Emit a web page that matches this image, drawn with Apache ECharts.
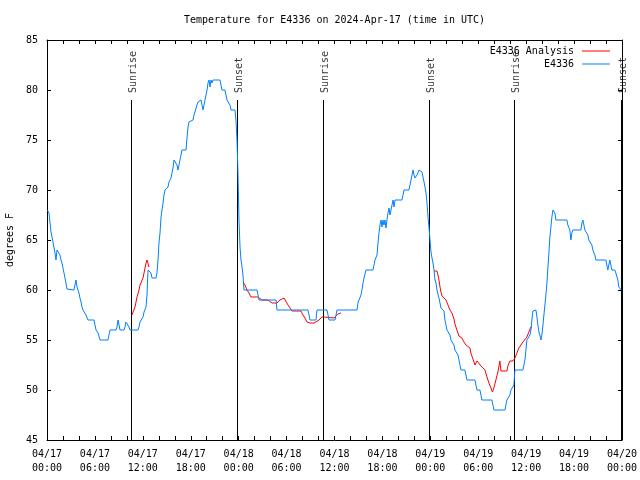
<!DOCTYPE html>
<html><head><meta charset="utf-8">
<script src="https://cdn.jsdelivr.net/npm/echarts@6/dist/echarts.min.js"></script>
<style>html,body{margin:0;padding:0;background:#fff}#c{width:640px;height:480px}</style>
</head><body><div id="c"></div>
<script>
const titleText = 'Temperature for E4336 on 2024-Apr-17 (time in UTC)';
const yAxisTitle = 'degrees F';
const xTickLabels = ['04/17\n00:00','04/17\n06:00','04/17\n12:00','04/17\n18:00','04/18\n00:00','04/18\n06:00','04/18\n12:00','04/18\n18:00','04/19\n00:00','04/19\n06:00','04/19\n12:00','04/19\n18:00','04/20\n00:00'];
const seriesNames = ['E4336 Analysis', 'E4336'];

// hours since 04/17 00:00 UTC
const blueHours = [0.05,0.25,0.38,0.5,0.63,0.75,0.88,1.0,1.13,1.25,1.5,1.63,1.75,1.88,2.0,2.13,2.25,2.38,2.5,2.63,3.38,3.5,3.63,3.76,3.88,4.0,4.13,4.26,4.38,4.51,4.76,4.88,5.13,5.89,6.01,6.14,6.39,6.64,7.64,7.76,7.89,8.64,8.77,8.89,9.02,9.14,9.64,9.77,9.89,10.02,10.14,10.27,10.39,11.39,11.52,11.65,11.9,12.02,12.15,12.4,12.52,12.65,12.9,13.02,13.15,13.65,13.77,13.9,14.02,14.15,14.28,14.4,14.53,14.65,14.78,15.03,15.15,15.28,15.53,15.65,15.78,15.9,16.15,16.28,16.4,16.53,16.65,16.78,16.9,17.41,17.53,17.66,17.78,17.91,18.28,18.41,18.53,18.66,18.78,18.91,19.03,19.28,19.41,19.53,19.78,19.91,20.04,20.16,20.29,20.41,20.54,20.66,20.79,21.66,21.79,21.91,22.29,22.41,22.54,22.79,22.91,23.04,23.54,23.66,23.79,23.92,24.04,24.17,24.29,24.42,24.54,24.67,26.3,26.42,26.55,28.68,28.8,32.68,32.81,32.93,33.68,33.81,35.06,35.19,35.31,36.06,36.19,36.31,38.82,38.94,39.07,39.32,39.44,39.57,39.69,39.94,40.82,40.95,41.07,41.32,41.45,41.57,41.7,41.82,41.95,42.07,42.2,42.32,42.45,42.57,42.7,42.83,42.95,43.08,43.2,43.33,43.45,43.58,44.45,44.58,44.7,45.33,45.45,45.71,45.83,45.96,46.08,46.33,46.58,46.83,46.96,47.08,47.21,47.33,47.46,47.58,47.71,47.83,47.96,48.08,48.21,48.33,48.46,48.58,48.71,48.83,49.08,49.21,49.33,49.46,49.71,49.83,49.96,50.08,50.33,50.46,50.58,50.83,50.96,51.08,51.33,51.46,51.58,51.71,51.83,52.33,52.46,52.58,53.59,53.71,53.84,54.21,54.34,54.46,55.71,55.84,55.96,57.34,57.46,57.59,57.84,57.96,58.09,58.34,58.46,58.59,59.59,59.72,59.84,59.97,60.09,60.34,60.47,60.6,60.72,60.84,61.22,61.35,61.47,61.6,61.72,61.85,61.97,62.1,62.22,62.35,62.47,62.6,62.72,62.85,62.97,63.1,63.22,63.35,63.47,63.6,63.72,65.1,65.22,65.47,65.6,65.72,65.85,66.85,66.98,67.1,67.23,67.35,67.6,67.73,67.85,68.1,68.23,68.35,68.48,68.6,68.73,69.98,70.1,70.23,70.35,70.48,70.6,70.73,71.1,71.23,71.35,71.48,71.6,71.9];
const blueTemps = [68,67.7,66.7,65.8,65.3,64.8,64.2,63.7,63,64,64,63.5,63,62.7,62.2,61.7,61.2,60.7,60.1,60,60,60.5,61,60.3,60,59.7,59.2,58.8,58.3,58,57.8,57.5,57,57,56.5,56,55.7,55,55,55.5,56,56,56.3,57,56.5,56,56,56.3,56.8,57,56.7,56.3,56,56,56.3,56.8,57,57.3,57.8,58.3,59.5,62,62,61.7,61.2,61.2,61.7,63,64.7,65.7,67.3,68,68.7,69.5,70,70,70.3,70.8,71.2,71.7,72.2,73,73,72.5,72,72.5,73,73.5,74,74,75.2,76.3,76.8,77,77,77.5,77.8,78,78.5,78.8,79,79,78.5,78,78,79.5,80,80.7,81,80.3,81,80.7,81,81,80.5,80,80,79.5,79,78.8,78.5,78,78,77,75,71.5,67,64.3,63,62.3,61.5,60,60,59.5,59,59,58,58,57.5,57,57,58,58,57.5,57,57,57.5,58,58,58.7,59,59.5,60,60.7,61.2,62,62,62.5,63,63.5,64.7,65.7,66.5,67,66.3,67,66.5,67,66.2,67,67.7,68.2,67.5,68,68.5,69,68.3,69,69,69.5,70,70,70.5,71.5,72,71.5,71.2,71.5,72,72,71.8,71.3,70.8,70.3,69.7,68.7,67.3,66.3,65,63.8,63.2,62.7,62,61,60.7,60,59.2,58.7,58.2,58,57.9,57,56.5,56,55.9,55.5,55,55,54.5,54,53.8,53.5,53,52.5,52,52,51.5,51,51,50.5,50,50,49.5,49,49,48.5,48,48,48.5,49,49,49.5,50,50,50.5,52,52,52.5,53,54,55,55,55.5,56,57,57.9,58,57.3,56.5,55.8,55.5,55,55.5,56.5,57.5,58.5,59.5,60.7,62.2,63.7,65.3,66.3,67.3,68,68,67.7,67,67,66.5,66,65,65.7,66,66,66.7,67,66.5,66,65.9,65.5,65,65,64.5,64,64,63.5,63,63,62.5,62,62.5,63,62.5,62,62,61.7,61.5,61,60.3,60];

// analysis series; null marks a gap between runs
const redHours = [10.64,10.77,11.02,11.27,11.52,11.65,11.9,12.02,12.15,12.27,12.4,12.52,12.65,12.77,null,
  24.54,24.79,25.04,25.29,25.54,26.42,26.67,26.92,27.67,27.92,28.18,28.8,29.18,29.68,29.93,30.18,30.43,30.68,31.8,32.05,32.3,32.56,32.93,33.43,33.68,34.06,34.43,34.69,34.94,35.94,36.19,36.44,36.81,null,
  48.46,48.83,48.96,49.08,49.21,49.33,49.46,49.71,49.96,50.21,50.46,50.71,50.96,51.08,51.33,51.58,51.71,51.96,52.21,52.46,52.71,52.96,53.08,53.33,53.59,53.84,54.09,54.34,54.59,54.84,55.09,55.34,55.59,55.78,55.96,56.21,56.46,56.71,56.84,57.59,57.71,57.96,58.34,58.59,58.84,59.09,59.34,59.59,59.84,60.09,60.34,60.59,60.72];
const redTemps = [57.5,57.7,58.3,59.3,60,60.5,60.7,61.2,61.7,62.2,62.7,63,62.8,62.3,null,
  60.8,60.5,60,59.7,59.3,59.3,59.2,59,59,58.8,58.7,58.7,59,59.2,59,58.5,58.2,57.9,57.9,57.5,57.2,56.8,56.7,56.7,56.8,57,57.3,57.3,57.2,57.2,57.3,57.6,57.7,null,
  61.9,61.9,61.5,61,60.3,59.8,59.4,59.3,59,58.5,58,57.7,57.1,56.6,56,55.4,55.4,55.2,54.8,54.5,54.3,54.2,53.7,53.1,52.5,52.9,52.7,52.4,52.2,52,51.3,50.7,50.2,49.8,50.2,51,51.8,52.9,51.9,51.9,52.4,52.9,52.9,53.2,53.7,54.2,54.5,54.8,54.8,55.3,55.8,56.3,56.3];

const sunHours = [10.58, 23.854, 34.623, 47.896, 58.54, 71.937];
const sunNames = ['Sunrise','Sunset','Sunrise','Sunset','Sunrise','Sunset'];
const sunLineTop = 79;
const sunLabelBase = 79.7;

const FONT = 'DejaVu Sans Mono';
const blueData = blueHours.map((h, i) => [h, blueTemps[i]]);
const redData = redHours.map((h, i) => h === null ? ['-', '-'] : [h, redTemps[i]]);
const sunLineData = [];
sunHours.forEach(h => { sunLineData.push([h, 45], [h, sunLineTop], ['-', '-']); });
const sunLabelData = sunHours.map((h, i) => [h, sunLabelBase, sunNames[i]]);

const axisCommon = {
  axisLine: { show: true, onZero: false, lineStyle: { color: '#000', width: 1 } },
  axisTick: { show: true, inside: true, length: 4, lineStyle: { color: '#000', width: 1 } },
  splitLine: { show: false }
};

const chart = echarts.init(document.getElementById('c'), null, { renderer: 'canvas' });
chart.setOption({
  animation: false,
  backgroundColor: '#fff',
  title: { text: titleText, left: 179, top: 10,
    textStyle: { fontFamily: FONT, fontSize: 10, fontWeight: 'normal', color: '#000' } },
  grid: { left: 47, right: 18, top: 40, bottom: 40, containLabel: false, outerBoundsMode: 'none' },
  legend: {
    data: seriesNames, orient: 'vertical', right: 25, top: 41, align: 'right',
    icon: 'rect', itemWidth: 28, itemHeight: 1, itemGap: 3,
    textStyle: { fontFamily: FONT, fontSize: 10, color: '#000', padding: [0, 3, 0, 0] }
  },
  xAxis: [
    Object.assign({ type: 'value', min: 0, max: 72, interval: 2, position: 'bottom',
      axisLabel: { color: '#000', fontFamily: FONT, fontSize: 10, lineHeight: 14, margin: 7,
        formatter: v => (v % 6 === 0 ? xTickLabels[v / 6] : '') } }, axisCommon),
    Object.assign({ type: 'value', min: 0, max: 72, interval: 2, position: 'top',
      axisLabel: { show: false } }, axisCommon)
  ],
  yAxis: [
    Object.assign({ type: 'value', min: 45, max: 85, interval: 5, position: 'left',
      name: yAxisTitle, nameLocation: 'middle', nameGap: 32,
      nameTextStyle: { fontFamily: FONT, fontSize: 10, color: '#000' },
      axisLabel: { color: '#000', fontFamily: FONT, fontSize: 10, margin: 9 } }, axisCommon),
    Object.assign({ type: 'value', min: 45, max: 85, interval: 5, position: 'right',
      axisLabel: { show: false } }, axisCommon)
  ],
  series: [
    { name: 'sun', type: 'line', data: sunLineData, showSymbol: false, symbol: 'none',
      lineStyle: { color: '#000', width: 1 }, z: 1, silent: true, connectNulls: false },
    { name: 'sunLabels', type: 'scatter', data: sunLabelData, symbolSize: 0, silent: true,
      label: { show: true, position: 'inside', rotate: 90, align: 'left', verticalAlign: 'middle',
        offset: [0, 2], formatter: p => p.data[2], color: '#000', fontFamily: FONT, fontSize: 10 } },
    { name: seriesNames[0], type: 'line', data: redData, showSymbol: false, symbol: 'none',
      connectNulls: false, color: '#ff0000', lineStyle: { color: '#ff0000', width: 1 }, z: 2 },
    { name: seriesNames[1], type: 'line', data: blueData, showSymbol: false, symbol: 'none',
      color: '#0080ff', lineStyle: { color: '#0080ff', width: 1 }, z: 3 }
  ]
});
</script>
</body></html>
